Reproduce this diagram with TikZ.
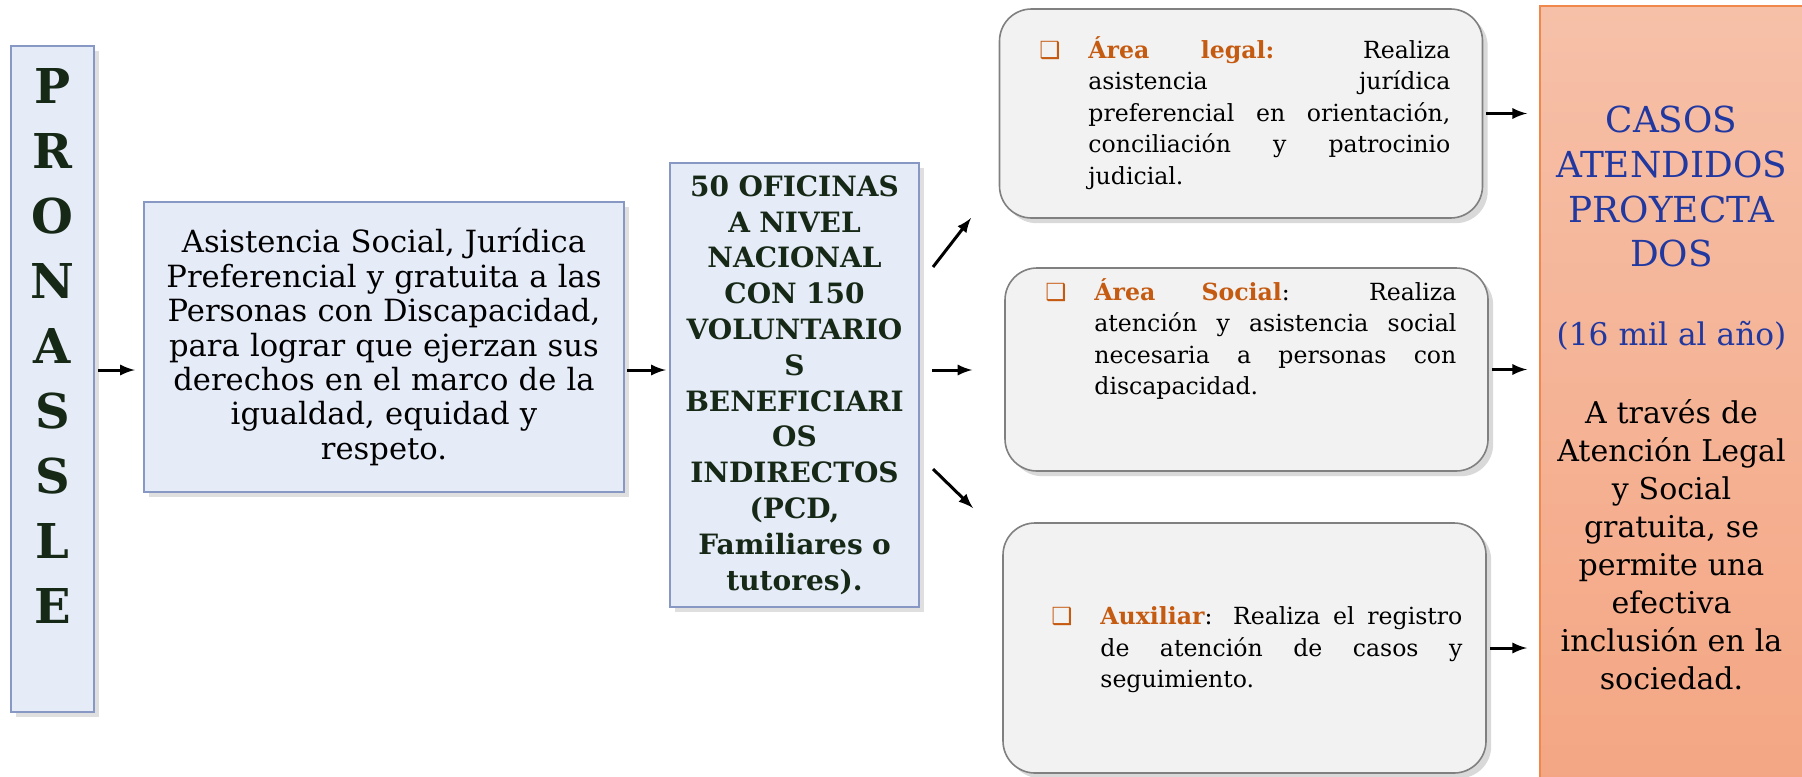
\documentclass[tikz,border=0pt]{standalone}
\usepackage{fontspec}
\setmainfont{DejaVu Serif}
\newfontfamily\symfont{DejaVu Sans}
\usetikzlibrary{arrows,shapes,positioning,shadows}

\definecolor{boxblue}{RGB}{230,235,248}
\definecolor{edgeblue}{RGB}{135,152,196}
\definecolor{boxgray}{RGB}{242,242,242}
\definecolor{areaorange}{RGB}{197,90,17}
\definecolor{casotop}{RGB}{246,192,168}
\definecolor{casobot}{RGB}{244,166,131}
\definecolor{casoedge}{RGB}{240,135,75}
\definecolor{casoblue}{RGB}{32,56,160}
\definecolor{glowgreen}{RGB}{22,40,22}

% orange square in front of each area
\newcommand{\cuadro}{\llap{\textcolor{areaorange}{\symfont ❑}\hspace{14pt}}}

\begin{document}
\begin{tikzpicture}[x=0.5pt,y=-0.5pt,
	basic/.style  = {draw=edgeblue, fill=boxblue, line width=1.2pt, drop shadow={opacity=0.25}, rectangle, inner sep=0pt},
	pronbox/.style = {basic, minimum width=41.5pt, minimum height=333pt},
	asisbox/.style = {basic, minimum width=240pt, minimum height=145pt, text width=236pt, align=center, font=\fontsize{15.3}{17.2}\selectfont},
	ofibox/.style  = {basic, minimum width=124.5pt, minimum height=222pt, text width=123pt, align=center, text=glowgreen, font=\bfseries\fontsize{14}{17.9}\selectfont},
	areabox/.style = {draw=gray, fill=boxgray, line width=0.8pt, rounded corners=16pt, drop shadow={opacity=0.3}, inner sep=0pt, minimum width=241.5pt},
	areatext/.style = {anchor=west, inner sep=0pt, text width=181pt, align=justify, font=\fontsize{11.8}{15.7}\selectfont},
	casosbox/.style = {draw=casoedge, line width=1pt, top color=casotop, bottom color=casobot, minimum width=131.5pt, minimum height=392pt, text width=128pt, align=center, inner sep=0pt, font=\fontsize{15}{19}\selectfont},
	>=latex]

	\useasboundingbox (0,0) rectangle (1802,776);

	% left column and the two boxes in the middle
	\node[pronbox] (pron) at (52.5,379) {};
	\node[text=glowgreen, align=center, font=\bfseries\fontsize{24}{32.5}\selectfont] (pron-t) at (52.5,346) {P\\R\\O\\N\\A\\S\\S\\L\\E};

	\node[asisbox] (asis) at (384,347) {Asistencia Social, Jurídica\\Preferencial y gratuita a las\\Personas con Discapacidad,\\para lograr que ejerzan sus\\derechos en el marco de la\\igualdad, equidad y\\respeto.\\[4pt]};

	\node[ofibox] (ofi) at (794.5,385) {50 OFICINAS\\A NIVEL\\NACIONAL\\CON 150\\VOLUNTARIO\\S\\BENEFICIARI\\OS\\INDIRECTOS\\(PCD,\\Familiares o\\tutores).};

	% the three areas
	\node[areabox, minimum height=104.5pt] (legal) at (1241,113.5) {};
	\node[areabox, minimum height=101.5pt] (soc) at (1246.5,369.5) {};
	\node[areabox, minimum height=125pt] (aux) at (1244.5,648) {};

	\node[areatext] (legal-t) at (1088,113) {\cuadro\textcolor{areaorange}{\bfseries Área legal:} Realiza\linebreak asistencia jurídica\linebreak preferencial en orientación,\linebreak conciliación y patrocinio\linebreak judicial.};
	\node[areatext] (soc-t) at (1094,339) {\cuadro\textcolor{areaorange}{\bfseries Área Social}: Realiza\linebreak atención y asistencia social\linebreak necesaria a personas con\linebreak discapacidad.};
	\node[areatext] (aux-t) at (1100,650) {\cuadro\textcolor{areaorange}{\bfseries Auxiliar}: Realiza el registro\linebreak de atención de casos y\linebreak seguimiento.};

	% result on the right
	\node[casosbox] (casos) at (1671.5,398) {{\color{casoblue}\fontsize{17.9}{22.4}\selectfont CASOS\\ATENDIDOS\\PROYECTA\\DOS\\[17pt]\fontsize{15.6}{22.4}\selectfont(16 mil al año)\\[20pt]}A través de\\Atención Legal\\y Social\\gratuita, se\\permite una\\efectiva\\inclusión en la\\sociedad.};

	% arrows
	\coordinate (flow) at (0,370);
	\coordinate (up0) at (933,267);
	\coordinate (up1) at (971,218);
	\coordinate (dn0) at (933,469);
	\coordinate (dn1) at (973,508);

	\begin{scope}[line width=1.5pt]
	\draw[->, shorten <=1.5pt, shorten >=4pt] (pron.east |- flow) -- (asis.west |- flow);
	\draw[->, shorten <=1pt, shorten >=1.5pt] (asis.east |- flow) -- (ofi.west |- flow);
	\draw[->, shorten <=6pt, shorten >=16pt] (ofi.east |- flow) -- (soc.west |- flow);
	\draw[->] (up0) -- (up1);
	\draw[->] (dn0) -- (dn1);
	\foreach \area in {legal,soc,aux}
	\draw[->, shorten <=1.5pt, shorten >=6pt] (\area.east) -- (\area.east -| casos.west);
	\end{scope}

\end{tikzpicture}
\end{document}
